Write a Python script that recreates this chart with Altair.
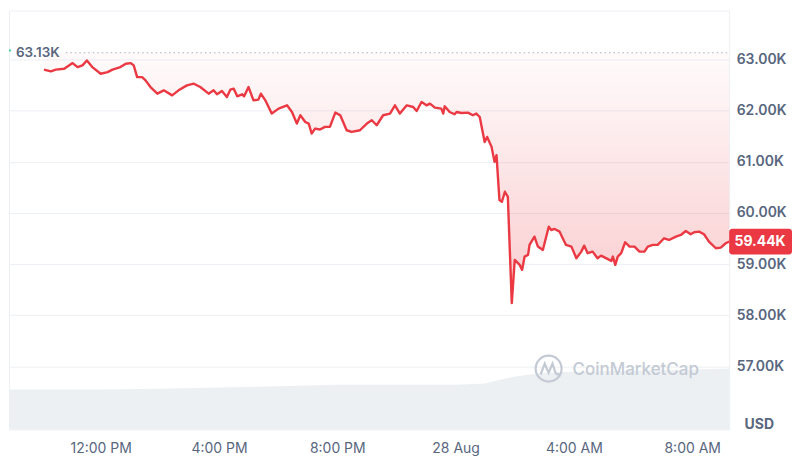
import altair as alt
import pandas as pd

# ---- price series (BTC/USD, 27-28 Aug 2024) ----
times = [
    "2024-08-27T10:05", "2024-08-27T10:19", "2024-08-27T10:29", "2024-08-27T10:46", "2024-08-27T11:03",
    "2024-08-27T11:13", "2024-08-27T11:23", "2024-08-27T11:32", "2024-08-27T11:43", "2024-08-27T12:00",
    "2024-08-27T12:14", "2024-08-27T12:24", "2024-08-27T12:40", "2024-08-27T12:51", "2024-08-27T13:01",
    "2024-08-27T13:07", "2024-08-27T13:14", "2024-08-27T13:24", "2024-08-27T13:31", "2024-08-27T13:41",
    "2024-08-27T13:55", "2024-08-27T14:08", "2024-08-27T14:25", "2024-08-27T14:38", "2024-08-27T14:55",
    "2024-08-27T15:09", "2024-08-27T15:22", "2024-08-27T15:39", "2024-08-27T15:49", "2024-08-27T15:56",
    "2024-08-27T16:06", "2024-08-27T16:16", "2024-08-27T16:23", "2024-08-27T16:30", "2024-08-27T16:37",
    "2024-08-27T16:47", "2024-08-27T16:51", "2024-08-27T17:00", "2024-08-27T17:10", "2024-08-27T17:20",
    "2024-08-27T17:25", "2024-08-27T17:34", "2024-08-27T17:47", "2024-08-27T18:01", "2024-08-27T18:18",
    "2024-08-27T18:28", "2024-08-27T18:38", "2024-08-27T18:45", "2024-08-27T18:55", "2024-08-27T19:02",
    "2024-08-27T19:08", "2024-08-27T19:15", "2024-08-27T19:25", "2024-08-27T19:35", "2024-08-27T19:45",
    "2024-08-27T19:56", "2024-08-27T20:06", "2024-08-27T20:19", "2024-08-27T20:29", "2024-08-27T20:46",
    "2024-08-27T21:00", "2024-08-27T21:10", "2024-08-27T21:20", "2024-08-27T21:33", "2024-08-27T21:47",
    "2024-08-27T21:57", "2024-08-27T22:07", "2024-08-27T22:21", "2024-08-27T22:34", "2024-08-27T22:41",
    "2024-08-27T22:51", "2024-08-27T23:01", "2024-08-27T23:08", "2024-08-27T23:18", "2024-08-27T23:31",
    "2024-08-27T23:35", "2024-08-27T23:38", "2024-08-27T23:48", "2024-08-27T23:58", "2024-08-28T00:02",
    "2024-08-28T00:12", "2024-08-28T00:25", "2024-08-28T00:35", "2024-08-28T00:42", "2024-08-28T00:49",
    "2024-08-28T00:59", "2024-08-28T01:04", "2024-08-28T01:13", "2024-08-28T01:19", "2024-08-28T01:23",
    "2024-08-28T01:29", "2024-08-28T01:34", "2024-08-28T01:40", "2024-08-28T01:46", "2024-08-28T01:54",
    "2024-08-28T02:00", "2024-08-28T02:10", "2024-08-28T02:15", "2024-08-28T02:20", "2024-08-28T02:27",
    "2024-08-28T02:30", "2024-08-28T02:40", "2024-08-28T02:47", "2024-08-28T02:57", "2024-08-28T03:09",
    "2024-08-28T03:14", "2024-08-28T03:21", "2024-08-28T03:31", "2024-08-28T03:44", "2024-08-28T03:55",
    "2024-08-28T04:05", "2024-08-28T04:15", "2024-08-28T04:21", "2024-08-28T04:28", "2024-08-28T04:38",
    "2024-08-28T04:48", "2024-08-28T04:55", "2024-08-28T05:05", "2024-08-28T05:16", "2024-08-28T05:19",
    "2024-08-28T05:24", "2024-08-28T05:29", "2024-08-28T05:36", "2024-08-28T05:44", "2024-08-28T05:53",
    "2024-08-28T06:03", "2024-08-28T06:13", "2024-08-28T06:23", "2024-08-28T06:30", "2024-08-28T06:40",
    "2024-08-28T06:50", "2024-08-28T07:03", "2024-08-28T07:13", "2024-08-28T07:27", "2024-08-28T07:37",
    "2024-08-28T07:47", "2024-08-28T07:57", "2024-08-28T08:04", "2024-08-28T08:14", "2024-08-28T08:24",
    "2024-08-28T08:34", "2024-08-28T08:48", "2024-08-28T08:58", "2024-08-28T09:08", "2024-08-28T09:15",
]
prices = [
    62800, 62766, 62800, 62819, 62928, 62850, 62883, 62980, 62850, 62721,
    62752, 62800, 62850, 62916, 62928, 62883, 62655, 62655, 62591, 62460,
    62331, 62396, 62298, 62396, 62493, 62526, 62460, 62331, 62396, 62318,
    62382, 62265, 62409, 62429, 62279, 62318, 62279, 62460, 62201, 62215,
    62331, 62201, 61942, 62039, 62103, 61973, 61747, 61909, 61778, 61747,
    61552, 61649, 61630, 61681, 61681, 61961, 61909, 61616, 61583, 61616,
    61747, 61811, 61714, 61909, 61942, 62103, 61942, 62103, 62070, 61992,
    62168, 62103, 62137, 62059, 62039, 61942, 62084, 61973, 61928, 61973,
    61953, 61961, 61909, 61942, 61875, 61388, 61486, 61291, 60998, 61129,
    60252, 60219, 60414, 60316, 58238, 59082, 58985, 58888, 59147, 59180,
    59375, 59537, 59342, 59277, 59731, 59667, 59687, 59634, 59375, 59342,
    59116, 59244, 59361, 59213, 59244, 59116, 59166, 59116, 59063, 59147,
    58985, 59147, 59213, 59427, 59342, 59342, 59244, 59244, 59342, 59375,
    59375, 59505, 59472, 59537, 59570, 59648, 59583, 59622, 59634, 59583,
    59439, 59310, 59322, 59408, 59440,
]

# ---- 24h volume band (billions USD) ----
vol_times = [
    "2024-08-27T08:54", "2024-08-27T10:00", "2024-08-27T12:00", "2024-08-27T14:00",
    "2024-08-27T16:00", "2024-08-27T18:00", "2024-08-27T20:00", "2024-08-27T22:00",
    "2024-08-28T00:00", "2024-08-28T01:00", "2024-08-28T01:30", "2024-08-28T02:00",
    "2024-08-28T03:00", "2024-08-28T04:00", "2024-08-28T06:00", "2024-08-28T08:00",
    "2024-08-28T09:15",
]
volumes = [28.6, 28.6, 28.6, 29.2, 30.0, 31.0, 32.1, 32.1, 32.1, 33.0, 35.7, 37.9,
           40.7, 41.4, 42.1, 42.9, 43.6]

open_price = 63130
last_price = 59440
y_ticks = [57000, 58000, 59000, 60000, 61000, 62000, 63000]

price_df = pd.DataFrame({"time": times, "price": prices})
vol_df = pd.DataFrame({"time": vol_times, "volume": volumes})

W, H = 722, 420
RED = "#ea3943"
GREY = "#58667e"
FONT = "Inter"

x_scale = alt.Scale(domain=[alt.DateTime(year=2024, month=8, date=27, hours=8, minutes=54),
                            alt.DateTime(year=2024, month=8, date=28, hours=9, minutes=15)])
y_scale = alt.Scale(domain=[55768, 63955], nice=False, zero=False)

x_axis = alt.Axis(
    values=[alt.DateTime(year=2024, month=8, date=27, hours=12),
            alt.DateTime(year=2024, month=8, date=27, hours=16),
            alt.DateTime(year=2024, month=8, date=27, hours=20),
            alt.DateTime(year=2024, month=8, date=28, hours=0),
            alt.DateTime(year=2024, month=8, date=28, hours=4),
            alt.DateTime(year=2024, month=8, date=28, hours=8)],
    labelExpr="hours(datum.value) == 0 ? timeFormat(datum.value, '%-d %b') : timeFormat(datum.value, '%-I:%M %p')",
    grid=False, ticks=False, domain=False, labelPadding=12,
    labelFontSize=14, labelColor=GREY, labelFont=FONT, labelFontWeight=400, title=None,
)
y_axis = alt.Axis(
    orient="right", values=y_ticks,
    labelExpr="format(datum.value / 1000, '.2f') + 'K'",
    grid=True, gridColor="#eceff3", ticks=False, domain=False, labelPadding=7,
    labelFontSize=14, labelColor=GREY, labelFont=FONT, labelFontWeight=600,
    title="USD", titleAngle=0, titleAlign="left", titleBaseline="middle",
    titleX=15, titleY=415, titleFontSize=14, titleFontWeight=700, titleColor=GREY, titleFont=FONT,
)

base = alt.Chart(price_df).transform_calculate(open=str(open_price))

fill = base.mark_area(
    color=alt.Gradient(
        gradient="linear",
        stops=[alt.GradientStop(color="rgba(234,57,67,0.02)", offset=0),
               alt.GradientStop(color="rgba(234,57,67,0.26)", offset=1)],
        x1=1, x2=1, y1=0, y2=1),
).encode(
    x=alt.X("time:T", scale=x_scale, axis=x_axis),
    y=alt.Y("price:Q", scale=y_scale, axis=y_axis),
    y2="open:Q",
)

line = base.mark_line(color=RED, strokeWidth=2.4, strokeJoin="round").encode(
    x="time:T", y="price:Q")

open_rule = alt.Chart().mark_rule(color="#a7b0c0", strokeDash=[1.5, 3], strokeWidth=1).encode(
    y=alt.datum(open_price), x=alt.value(57), x2=alt.value(W))

open_label = alt.Chart().mark_text(
    align="left", baseline="middle", font=FONT, fontSize=13.5, fontWeight=600, color=GREY
).encode(x=alt.value(7), y=alt.datum(open_price), text=alt.value("63.13K"))

start_dot = alt.Chart().mark_point(filled=True, color="#16c784", size=6, shape="circle").encode(
    x=alt.value(1), y=alt.value(40))

tag_box = alt.Chart().mark_rect(color=RED, cornerRadius=3).encode(
    x=alt.value(W), x2=alt.value(W + 63),
    y=alt.datum(last_price + 250), y2=alt.datum(last_price - 250))

tag_text = alt.Chart().mark_text(
    align="center", baseline="middle", font=FONT, fontSize=14, fontWeight=700, color="white"
).encode(x=alt.value(W + 31), y=alt.datum(last_price), text=alt.value("59.44K"))

price_layer = alt.layer(fill, line, open_rule, open_label, start_dot, tag_box, tag_text)

volume = alt.Chart(vol_df).mark_area(color="#edf0f3").encode(
    x=alt.X("time:T", scale=x_scale),
    y=alt.Y("volume:Q", scale=alt.Scale(domain=[0, 300], nice=False), axis=None),
)

logo = alt.Chart().mark_point(
    shape="M 1 0 A 1 1 0 1 1 -1 0 A 1 1 0 1 1 1 0 M -0.62 0.45 L -0.3 -0.38 L 0 0.32 L 0.3 -0.38 L 0.52 0.3 Q 0.62 0.52 0.82 0.38",
    filled=False, size=676, strokeWidth=2.2, color="#c3cad4", opacity=1,
).encode(x=alt.value(541), y=alt.value(359))

watermark = alt.Chart().mark_text(
    align="left", baseline="middle", font=FONT, fontSize=17, fontWeight=500, color="#c3cad4"
).encode(x=alt.value(565), y=alt.value(360), text=alt.value("CoinMarketCap"))

chart = alt.layer(volume, price_layer, logo, watermark).resolve_scale(y="independent").properties(
    width=W, height=H, padding={"left": 0, "top": 2, "right": 0, "bottom": 0},
    background="white",
).configure_view(stroke="#eceff3", strokeWidth=1)

chart.save("out.html", embed_options={"renderer": "svg", "actions": False})
